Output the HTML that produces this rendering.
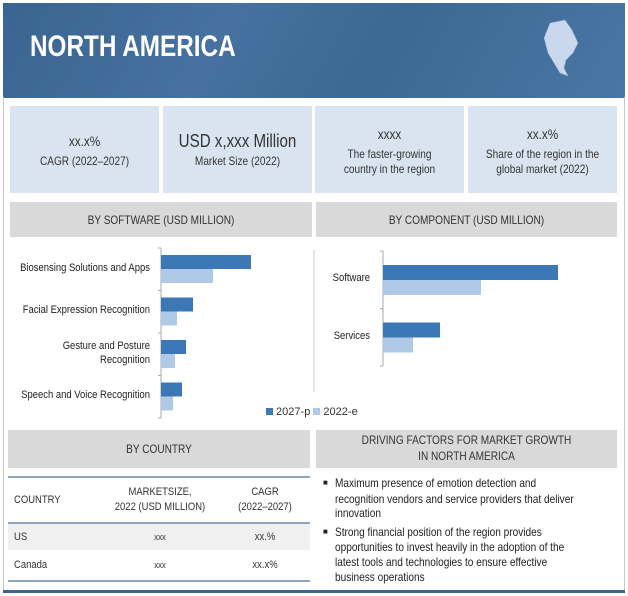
<!DOCTYPE html>
<html><head><meta charset="utf-8"><style>
*{margin:0;padding:0;box-sizing:border-box}
body{width:628px;height:596px;background:#fff;font-family:"Liberation Sans",sans-serif;color:#222;position:relative;overflow:hidden}
.abs{position:absolute}
.hdr{left:3px;top:3px;width:622px;height:95px;background:linear-gradient(120deg,#3a6592 0%,#4671a0 35%,#3b6894 60%,#4a76a5 100%)}
.title{left:30px;top:30px;color:#fff;font-weight:bold;font-size:30px;white-space:nowrap;transform:scaleX(0.81);transform-origin:left}
.frame{left:3px;top:97px;width:622px;height:495px;border:1px solid #c8c8c8;border-top:none}
.card{top:106px;height:87px;background:#dae4f0;color:#333}
.ln{position:absolute;left:-50px;right:-50px;text-align:center;white-space:nowrap;transform:scaleX(0.84);font-size:12px}
.sec{background:#d9d9d9;color:#333}
.lbl{font-size:11px;color:#222;white-space:nowrap;transform:scaleX(0.86);transform-origin:right;text-align:right;width:200px}
.t{position:absolute;font-size:11px;color:#333;white-space:nowrap;transform:scaleX(0.86)}
.b{position:absolute;left:335px;font-size:12px;color:#222;white-space:nowrap;transform:scaleX(0.84);transform-origin:left}
</style></head><body>
<div class="abs hdr"></div>
<div class="abs title">NORTH AMERICA</div>
<svg class="abs" style="left:540px;top:18px" width="42" height="62"><path d="M10 5 L25 2 L32 12 L38 25 L33 35 L26 42 L24 50 L28 58 L20 55 L14 45 L8 35 L4 20 Z" fill="#c9d8ec" stroke="#8fa8c8" stroke-width="0.5"/></svg>
<div class="abs frame"></div>
<div class="abs card" style="left:10px;width:149px"><div class="ln" style="top:27px;font-size:14px">xx.x%</div><div class="ln" style="top:48px">CAGR (2022–2027)</div></div>
<div class="abs card" style="left:163px;width:149px"><div class="ln" style="top:25px;font-size:18px">USD x,xxx Million</div><div class="ln" style="top:48px">Market Size (2022)</div></div>
<div class="abs card" style="left:315px;width:149px"><div class="ln" style="top:20px;font-size:14px">xxxx</div><div class="ln" style="top:41px">The faster-growing</div><div class="ln" style="top:56px">country in the region</div></div>
<div class="abs card" style="left:468px;width:149px"><div class="ln" style="top:20px;font-size:14px">xx.x%</div><div class="ln" style="top:41px">Share of the region in the</div><div class="ln" style="top:56px">global market (2022)</div></div>
<div class="abs sec" style="left:10px;top:202px;width:302px;height:35px"><div class="ln" style="top:11px">BY SOFTWARE (USD MILLION)</div></div>
<div class="abs sec" style="left:316px;top:202px;width:301px;height:35px"><div class="ln" style="top:11px">BY COMPONENT (USD MILLION)</div></div>
<svg class="abs" style="left:0;top:0" width="628" height="596" id="charts"></svg>
<div class="abs lbl" style="left:-50px;top:262px">Biosensing Solutions and Apps</div>
<div class="abs lbl" style="left:-50px;top:304px">Facial Expression Recognition</div>
<div class="abs lbl" style="left:-50px;top:340px">Gesture and Posture</div>
<div class="abs lbl" style="left:-50px;top:354px">Recognition</div>
<div class="abs lbl" style="left:-50px;top:389px">Speech and Voice Recognition</div>
<div class="abs lbl" style="left:170px;top:272px">Software</div>
<div class="abs lbl" style="left:170px;top:330px">Services</div>
<div class="abs" style="left:266px;top:406px;font-size:11px;color:#333;white-space:nowrap"><span style="display:inline-block;width:7px;height:7px;background:#3c78b6"></span> 2027-p <span style="display:inline-block;width:7px;height:7px;background:#afc9e6"></span> 2022-e</div>
<div class="abs sec" style="left:8px;top:430px;width:302px;height:38px"><div class="ln" style="top:12px">BY COUNTRY</div></div>
<div class="abs sec" style="left:316px;top:430px;width:301px;height:38px"><div class="ln" style="top:3px">DRIVING FACTORS FOR MARKET GROWTH</div><div class="ln" style="top:19px">IN NORTH AMERICA</div></div>
<div class="abs" style="left:8px;top:476px;width:302px;height:2px;background:#8fa6bf"></div>
<div class="abs" style="left:8px;top:522px;width:302px;height:2px;background:#8fa6bf"></div>
<div class="abs" style="left:8px;top:524px;width:302px;height:26px;background:#f0f0f0"></div>
<div class="abs" style="left:8px;top:580px;width:302px;height:2px;background:#8fa6bf"></div>
<div class="t" style="left:14px;top:494px;transform-origin:left">COUNTRY</div>
<div class="t" style="left:90px;width:140px;text-align:center;top:486px">MARKETSIZE,</div>
<div class="t" style="left:90px;width:140px;text-align:center;top:501px">2022 (USD MILLION)</div>
<div class="t" style="left:225px;width:80px;text-align:center;top:486px">CAGR</div>
<div class="t" style="left:225px;width:80px;text-align:center;top:501px">(2022–2027)</div>
<div class="t" style="left:14px;top:531px;transform-origin:left">US</div>
<div class="t" style="left:90px;width:140px;text-align:center;top:532px;font-size:9px">xxx</div>
<div class="t" style="left:225px;width:80px;text-align:center;top:531px">xx.%</div>
<div class="t" style="left:14px;top:559px;transform-origin:left">Canada</div>
<div class="t" style="left:90px;width:140px;text-align:center;top:560px;font-size:9px">xxx</div>
<div class="t" style="left:225px;width:80px;text-align:center;top:559px">xx.x%</div>
<div>
<div class="abs" style="left:323px;top:478px;font-size:8px">■</div>
<div class="b" style="top:476px">Maximum presence of emotion detection and</div>
<div class="b" style="top:492px">recognition vendors and service providers that deliver</div>
<div class="b" style="top:506px">innovation</div>
<div class="abs" style="left:323px;top:527px;font-size:8px">■</div>
<div class="b" style="top:525px">Strong financial position of the region provides</div>
<div class="b" style="top:540px">opportunities to invest heavily in the adoption of the</div>
<div class="b" style="top:555px">latest tools and technologies to ensure effective</div>
<div class="b" style="top:570px">business operations</div>
</div>
<div class="abs" style="left:3px;top:590px;width:622px;height:3px;background:#3b6590"></div>
<script>
const softCats=["Biosensing","Facial","Gesture","Speech"];
const soft2027=[90,32,25,21];
const soft2022=[52,16,14,12];
const compCats=["Software","Services"];
const comp2027=[175,57];
const comp2022=[98,30];
const svg=document.getElementById('charts');
const NS='http://www.w3.org/2000/svg';
function mk(t,a){const e=document.createElementNS(NS,t);for(const k in a)e.setAttribute(k,a[k]);svg.appendChild(e);return e;}
function chart(x0,top,band,barH,off,scale,cats,a,b,nm){
  const ln=mk('line',{x1:x0,y1:top,x2:x0,y2:top+band*cats.length,stroke:'#aaa'});
  
  
  for(let i=0;i<=cats.length;i++){mk('line',{x1:x0-3,y1:top+band*i,x2:x0,y2:top+band*i,stroke:'#aaa'});}
  cats.forEach((c,i)=>{
    const y=top+band*i+off;
    const r1=mk('rect',{x:x0,y:y,width:a[i]*scale,height:barH,fill:'#3c78b6'});
    
    
    const r2=mk('rect',{x:x0,y:y+barH,width:b[i]*scale,height:barH,fill:'#afc9e6'});
    
    
  });
}
chart(161,248,42.5,14,7,1,softCats,soft2027,soft2022,'software');
chart(383,251,57.5,15,14,1,compCats,comp2027,comp2022,'component');
const sep=mk('line',{x1:314,y1:250,x2:314,y2:392,stroke:'#ccc'});


</script>
</body></html>
